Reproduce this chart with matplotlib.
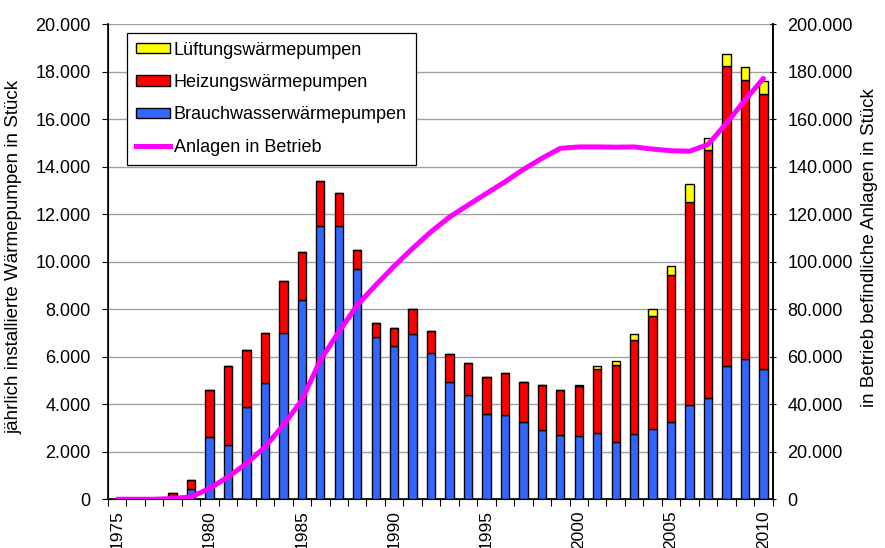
import numpy as np
import matplotlib.pyplot as plt
from matplotlib.ticker import FuncFormatter, FixedLocator
from matplotlib.patches import Patch
from matplotlib.lines import Line2D

plt.rcParams['font.family'] = ['Liberation Sans', 'DejaVu Sans']

years = list(range(1975, 2011))

# Brauchwasserwärmepumpen (blue), per year
brauchwasser = [0, 0, 0, 50, 450, 2600, 2300, 3900, 4900, 7000,
                8400, 11500, 11500, 9700, 6850, 6450, 6950, 6150, 4950, 4400,
                3600, 3550, 3250, 2900, 2700, 2650, 2800, 2400, 2750, 2950,
                3250, 3950, 4250, 5600, 5900, 5500]
# Heizungswärmepumpen (red)
heizung = [0, 0, 0, 230, 350, 2000, 3300, 2400, 2100, 2200,
           2000, 1900, 1400, 800, 550, 750, 1050, 950, 1150, 1350,
           1550, 1750, 1700, 1900, 1900, 2100, 2700, 3250, 3950, 4750,
           6200, 8550, 10450, 12650, 11750, 11550]
# Lüftungswärmepumpen (yellow)
lueftung = [0, 0, 0, 0, 0, 0, 0, 0, 0, 0,
            0, 0, 0, 0, 0, 0, 0, 0, 0, 0,
            0, 0, 0, 0, 0, 50, 100, 150, 250, 300,
            350, 750, 500, 500, 550, 550]
# Anlagen in Betrieb (right axis)
in_betrieb = [0, 0, 0, 300, 1000, 4500, 9400, 15000, 22000, 31200,
              41700, 58500, 70400, 81700, 90100, 98100, 105600, 112600, 118800, 123800,
              128700, 133600, 138800, 143500, 147700, 148300, 148300, 148200, 148300, 147400,
              146700, 146500, 149300, 158300, 168000, 177100]

blue = '#3366FF'
red = '#FF0000'
yellow = '#FFFF00'
magenta = '#FF00FF'

x = np.arange(len(years))
b = np.array(brauchwasser)
h = np.array(heizung)
l = np.array(lueftung)

fig = plt.figure(figsize=(8.85, 5.48), dpi=100)
ax = fig.add_axes([0.122, 0.089, 0.751, 0.867])

w = 0.45
kw = dict(width=w, edgecolor='black', linewidth=1.0, zorder=3)
ax.bar(x, b, color=blue, **kw)
ax.bar(x, h, bottom=b, color=red, **kw)
ax.bar(x, l, bottom=b + h, color=yellow, **kw)

ax.set_xlim(-0.5, len(years) - 0.5)
ax.set_ylim(0, 20000)
ax.set_yticks(np.arange(0, 20001, 2000))
fmt = FuncFormatter(lambda v, p: f"{v:,.0f}".replace(",", "."))
ax.yaxis.set_major_formatter(fmt)
ax.grid(axis='y', color='#a0a0a0', linewidth=1.0, zorder=0)
ax.set_axisbelow(True)

# category boundaries as ticks, labels every 5 years at bar centres
ax.xaxis.set_major_locator(FixedLocator(np.arange(-0.5, len(years), 1.0)))
ax.xaxis.set_major_formatter(FuncFormatter(lambda v, p: ''))
lab_pos = [i for i, yr in enumerate(years) if yr % 5 == 0]
ax.xaxis.set_minor_locator(FixedLocator(lab_pos))
ax.set_xticklabels([str(years[i]) for i in lab_pos], minor=True, rotation=90)
ax.tick_params(axis='x', which='major', length=5, direction='out', color='black')
ax.tick_params(axis='x', which='minor', length=0, pad=8, labelsize=12.5)
ax.tick_params(axis='y', length=4.5, direction='out', labelsize=13, pad=8)

for s in ['left', 'bottom', 'right']:
    ax.spines[s].set_color('black')
    ax.spines[s].set_linewidth(1.2)
ax.spines['top'].set_visible(False)

ax.set_ylabel('jährlich installierte Wärmepumpen in Stück', fontsize=13.5)
ax.yaxis.set_label_coords(-0.128, 0.51)

ax2 = ax.twinx()
ax2.plot(x, in_betrieb, color=magenta, linewidth=3.6, solid_capstyle='round', zorder=4)
ax2.set_ylim(0, 200000)
ax2.set_yticks(np.arange(0, 200001, 20000))
ax2.yaxis.set_major_formatter(fmt)
ax2.tick_params(axis='y', length=5, direction='inout', labelsize=13, pad=8)
ax2.spines['top'].set_visible(False)
ax2.spines['right'].set_linewidth(1.2)
ax2.set_ylabel('in Betrieb befindliche Anlagen in Stück', fontsize=13.5)
ax2.yaxis.set_label_coords(1.133, 0.53)

handles = [
    Patch(facecolor=yellow, edgecolor='black', linewidth=1.0),
    Patch(facecolor=red, edgecolor='black', linewidth=1.0),
    Patch(facecolor=blue, edgecolor='black', linewidth=1.0),
    Line2D([], [], color=magenta, linewidth=3.6),
]
labels = ['Lüftungswärmepumpen', 'Heizungswärmepumpen',
          'Brauchwasserwärmepumpen', 'Anlagen in Betrieb']
leg = ax2.legend(handles, labels, loc='upper left', bbox_to_anchor=(0.028, 0.982),
                 fontsize=13, frameon=True, fancybox=False, edgecolor='black',
                 framealpha=1.0, handlelength=1.9, handleheight=0.5,
                 handletextpad=0.2, labelspacing=0.85, borderpad=0.5,
                 borderaxespad=0.0)
leg.get_frame().set_linewidth(0.9)
leg.set_zorder(10)

fig.savefig('out.png', dpi=100, facecolor='white')
